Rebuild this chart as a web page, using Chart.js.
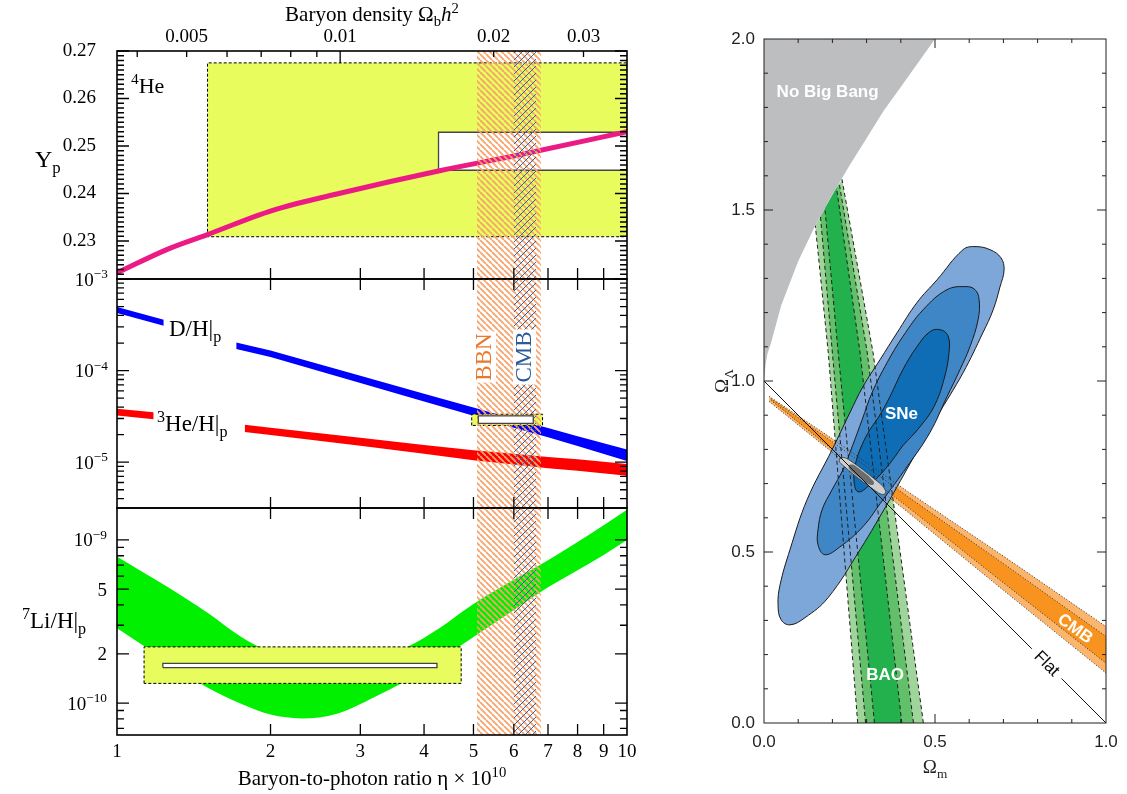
<!DOCTYPE html>
<html>
<head>
<meta charset="utf-8">
<script src="https://cdn.jsdelivr.net/npm/chart.js@4.4.1/dist/chart.umd.min.js"></script>
<style>
html,body{margin:0;padding:0;background:#ffffff;}
#wrap{position:relative;width:1127px;height:794px;overflow:hidden;background:#fff;}
#wrap canvas{position:absolute;left:0;top:0;}
</style>
</head>
<body>
<div id="wrap">
<canvas id="cA" width="1127" height="794"></canvas>
<canvas id="cB" width="1127" height="794"></canvas>
<canvas id="cC" width="1127" height="794"></canvas>
<canvas id="cD" width="1127" height="794"></canvas>
</div>
<script>
// ================= DATA =================
// ---- left panel: x = baryon-to-photon ratio eta x 10^10 ----
const etaTickLabels = [1, 2, 3, 4, 5, 6, 7, 8, 9, 10];
const etaInnerTicks = [2, 3, 4, 5, 6, 7, 8, 9];
const obhTickLabels = [0.005, 0.01, 0.02, 0.03];
const obhMajorTicks = [0.01];
const obhMinorTicks = [0.004, 0.005, 0.006, 0.007, 0.008, 0.009, 0.02, 0.03];
const ETA_PER_OBH = 273.9;

// 4He mass fraction
const etaYp = [1, 1.265, 1.5, 2.013, 2.75, 4.29, 6.0, 10];
const ypValues = [0.2233, 0.2284, 0.2313, 0.2364, 0.2401, 0.2448, 0.2479, 0.2530];
const ypTickLabels = [0.23, 0.24, 0.25, 0.26, 0.27];
const heBoxYellowEta = [1.505, 10];
const heBoxYellowY = [0.2309, 0.2675];
const heBoxWhiteEta = [4.27, 10];
const heBoxWhiteY = [0.2449, 0.2529];

// D/H and 3He/H
const etaDH = [1, 1.235, 1.713, 2, 3, 4, 5, 6, 7, 8, 10];
const dhHigh = [4.95e-4, 3.60e-4, 2.03e-4, 1.66e-4, 8.8e-5, 5.6e-5, 3.95e-5, 2.97e-5, 2.36e-5, 1.92e-5, 1.38e-5];
const dhLow  = [4.25e-4, 3.08e-4, 1.72e-4, 1.41e-4, 7.3e-5, 4.6e-5, 3.22e-5, 2.38e-5, 1.87e-5, 1.5e-5, 1.03e-5];
const etaHe3 = [1, 1.18, 1.78, 2, 3, 4, 5, 6, 7, 8, 10];
const he3High = [3.84e-5, 3.51e-5, 2.56e-5, 2.38e-5, 1.85e-5, 1.54e-5, 1.35e-5, 1.24e-5, 1.14e-5, 1.08e-5, 9.54e-6];
const he3Low  = [3.23e-5, 2.95e-5, 2.14e-5, 1.98e-5, 1.51e-5, 1.24e-5, 1.05e-5, 9.45e-6, 8.6e-6, 8.05e-6, 7.12e-6];
const dBoxYellowEta = [4.96, 6.83];
const dBoxYellowY = [2.52e-5, 3.34e-5];
const dBoxWhiteEta = [5.11, 6.55];
const dBoxWhiteY = [2.66e-5, 3.2e-5];
const dhTickValues = [1e-3, 1e-4, 1e-5];
const dhTickText = ['10^\u22123', '10^\u22124', '10^\u22125'];
const dhMinorTicks = [2e-4,3e-4,4e-4,5e-4,6e-4,7e-4,8e-4,9e-4,2e-5,3e-5,4e-5,5e-5,6e-5,7e-5,8e-5,9e-5,4e-6,5e-6,6e-6,7e-6,8e-6,9e-6];

// 7Li/H
const etaLi = [1, 1.25, 1.5, 1.75, 2, 2.3, 2.7, 3.2, 3.7, 4.3, 5, 6, 7, 8, 9, 10];
const liHigh = [7.9e-10, 5.2e-10, 3.6e-10, 2.55e-10, 2.05e-10, 1.8e-10, 1.72e-10, 1.85e-10, 2.2e-10, 2.9e-10, 4.05e-10, 5.7e-10, 7.5e-10, 9.7e-10, 1.23e-9, 1.53e-9];
const liLow  = [2.87e-10, 1.81e-10, 1.25e-10, 9.9e-11, 8.5e-11, 8.05e-11, 8.6e-11, 1.09e-10, 1.38e-10, 1.85e-10, 2.54e-10, 3.72e-10, 5.13e-10, 6.53e-10, 8.09e-10, 1.0e-9];
const liBoxYellowEta = [1.13, 4.73];
const liBoxYellowY = [1.32e-10, 2.21e-10];
const liBoxWhiteEta = [1.23, 4.24];
const liBoxWhiteY = [1.65e-10, 1.75e-10];
const liTickValues = [1e-9, 5e-10, 2e-10, 1e-10];
const liTickText = ['10^\u22129', '5', '2', '10^\u221210'];
const liMinorTicks = [9e-10, 8e-10, 7e-10, 6e-10, 4e-10, 3e-10, 9e-11, 8e-11, 7e-11];

// BBN and CMB eta ranges
const bbnBand = [5.08, 6.78];
const cmbBand = [6.0, 6.63];

// ---- right panel: Omega_m vs Omega_Lambda ----
const omTickLabels = [0, 0.5, 1.0];
const olTickLabels = [0, 0.5, 1.0, 1.5, 2.0];
const nbbOm = [0, 0.005, 0.01, 0.02, 0.05, 0.1, 0.15, 0.2, 0.25, 0.3, 0.35, 0.4, 0.45, 0.5, 0, 0];
const nbbOl = [1.0, 1.05, 1.08, 1.11, 1.22, 1.35, 1.455, 1.545, 1.63, 1.71, 1.79, 1.86, 1.93, 2.0, 2.0, 1.0];
const baoLightLeftOm = [0.274, 0.188, 0.150];  const baoLightLeftOl = [0, 1.082, 1.455];
const baoLightRightOm = [0.466, 0.319, 0.228]; const baoLightRightOl = [0, 1.082, 1.59];
const baoMidLeftOm = [0.297, 0.200, 0.165];    const baoMidLeftOl = [0, 1.082, 1.482];
const baoMidRightOm = [0.437, 0.302, 0.220];   const baoMidRightOl = [0, 1.082, 1.578];
const baoDarkLeftOm = [0.323, 0.217, 0.178];   const baoDarkLeftOl = [0, 1.082, 1.505];
const baoDarkRightOm = [0.403, 0.281, 0.212];  const baoDarkRightOl = [0, 1.082, 1.565];
const cmbOuterUpOm = [0.015, 0.2, 0.42, 0.7, 1.0];  const cmbOuterUpOl = [0.955, 0.831, 0.677, 0.488, 0.282];
const cmbOuterLoOm = [0.015, 0.2, 0.42, 0.7, 1.0];  const cmbOuterLoOl = [0.940, 0.791, 0.617, 0.388, 0.146];
const cmbInnerUpOm = [0.02, 0.2, 0.42, 0.7, 1.0];   const cmbInnerUpOl = [0.949, 0.822, 0.662, 0.466, 0.253];
const cmbInnerLoOm = [0.02, 0.2, 0.42, 0.7, 1.0];   const cmbInnerLoOl = [0.944, 0.800, 0.632, 0.410, 0.175];
const sneOuterOm = [0.368,0.281,0.187,0.120,0.076,0.050,0.041,0.047,0.076,0.126,0.199,0.251,0.289,0.339,0.389,0.447,0.506,0.582,0.617,0.661,0.693,0.702,0.690,0.670,0.640,0.582,0.506,0.450,0.368];
const sneOuterOl = [0.653,0.507,0.366,0.308,0.287,0.302,0.346,0.404,0.507,0.653,0.799,0.907,0.983,1.062,1.141,1.229,1.296,1.384,1.393,1.384,1.360,1.325,1.275,1.208,1.141,1.024,0.896,0.799,0.653];
const sneMidOm = [0.348,0.289,0.222,0.178,0.158,0.158,0.170,0.199,0.231,0.260,0.287,0.316,0.360,0.406,0.465,0.535,0.591,0.617,0.629,0.626,0.602,0.573,0.535,0.485,0.418,0.348];
const sneMidOl = [0.653,0.574,0.515,0.492,0.521,0.565,0.624,0.682,0.741,0.814,0.887,0.966,1.054,1.130,1.208,1.267,1.276,1.267,1.238,1.179,1.100,1.033,0.954,0.849,0.749,0.653];
const sneInnerOm = [0.406,0.360,0.310,0.275,0.263,0.269,0.287,0.310,0.339,0.368,0.406,0.447,0.485,0.515,0.538,0.541,0.526,0.497,0.456,0.406];
const sneInnerOl = [0.811,0.749,0.697,0.676,0.711,0.764,0.814,0.858,0.901,0.954,1.033,1.100,1.144,1.150,1.132,1.083,1.004,0.925,0.866,0.811];
const combOuterOm = [0.29,0.26,0.235,0.222,0.221,0.235,0.26,0.29,0.32,0.345,0.356,0.352,0.34,0.32,0.29];
const combOuterOl = [0.705,0.728,0.750,0.762,0.771,0.776,0.762,0.740,0.716,0.695,0.677,0.669,0.670,0.683,0.705];
const combInnerOm = [0.285,0.262,0.248,0.250,0.262,0.285,0.31,0.322,0.318,0.305,0.285];
const combInnerOl = [0.713,0.730,0.745,0.755,0.755,0.738,0.718,0.703,0.696,0.699,0.713];
const flatAOm = [0, 0.783];  const flatAOl = [1.0, 0.217];
const flatBOm = [0.870, 1.0]; const flatBOl = [0.130, 0];

// ================= HELPERS =================
const SERIF = "'Liberation Serif','Times New Roman',Times,serif";
const SANS = "'Liberation Sans',Arial,Helvetica,sans-serif";
Chart.defaults.font.family = SERIF;
Chart.defaults.color = '#000';

const YELLOW = '#e9fc5d', MAGENTA = '#ec1a84', BLUE = '#0000ff', RED = '#ff0000', GREEN = '#00f000';
const HATCH_OR = '#f7a36b', HATCH_BL = '#3165ad';

function xy(xs, ys) { return xs.map((x, i) => ({x: x, y: ys[i]})); }
function box(xr, yr) {
  return [{x:xr[0],y:yr[0]},{x:xr[0],y:yr[1]},{x:xr[1],y:yr[1]},{x:xr[1],y:yr[0]},{x:xr[0],y:yr[0]}];
}
function ring(lOm, lOl, rOm, rOl) {
  const om = lOm.concat(rOm.slice().reverse(), [lOm[0]]);
  const ol = lOl.concat(rOl.slice().reverse(), [lOl[0]]);
  return xy(om, ol);
}
function ds(data, o) {
  return Object.assign({data: data, pointRadius: 0, pointHoverRadius: 0, borderWidth: 0,
    borderColor: 'rgba(0,0,0,0)', backgroundColor: 'rgba(0,0,0,0)', fill: false, tension: 0}, o);
}
function hatch(ctx, color, dir, s, lw) {
  const c = document.createElement('canvas'); c.width = s; c.height = s;
  const g = c.getContext('2d');
  g.strokeStyle = color; g.lineWidth = lw;
  g.beginPath();
  for (let k = -1; k <= 1; k++) {
    if (dir === 'back') { g.moveTo(k * s, 0); g.lineTo(k * s + s, s); }
    else { g.moveTo(k * s, s); g.lineTo(k * s + s, 0); }
  }
  g.stroke();
  return ctx.createPattern(c, 'repeat');
}
function parseLabel(t) {
  const i = t.indexOf('^');
  return i < 0 ? [[t, 'n']] : [[t.slice(0, i), 'n'], [t.slice(i + 1), 'sup']];
}
function rich(ctx, x, y, segs, o) {
  const size = o.size, fam = o.family || SERIF, wt = o.weight || 'normal';
  const parts = segs.map(function (s) {
    const t = s[0], k = s[1];
    const small = (k === 'sup' || k === 'sub');
    const fs = small ? size * 0.7 : size;
    const font = (k === 'i' ? 'italic ' : '') + wt + ' ' + fs + 'px ' + fam;
    ctx.font = font;
    return {t: t, font: font, w: ctx.measureText(t).width,
            dy: k === 'sup' ? -size * 0.40 : (k === 'sub' ? size * 0.24 : 0)};
  });
  const W = parts.reduce((a, p) => a + p.w, 0);
  let x0 = o.align === 'right' ? -W : (o.align === 'center' ? -W / 2 : 0);
  ctx.save();
  ctx.translate(x, y);
  if (o.rot) ctx.rotate(o.rot);
  ctx.textAlign = 'left';
  ctx.textBaseline = o.middle ? 'middle' : 'alphabetic';
  if (o.bg) { ctx.fillStyle = o.bg; ctx.fillRect(x0 - 2, -size * 0.78, W + 4, size * 1.0); }
  ctx.fillStyle = o.color || '#000';
  for (const p of parts) { ctx.font = p.font; ctx.fillText(p.t, x0, p.dy); x0 += p.w; }
  ctx.restore();
  return W;
}
function framePlugin(cfg) {
  return {
    id: 'frame' + cfg.name,
    afterDatasetsDraw: function (chart) {
      const ctx = chart.ctx, a = chart.chartArea;
      ctx.save();
      ctx.strokeStyle = cfg.color;
      for (const t of cfg.ticks) {
        const s = chart.scales[t.scale];
        ctx.lineWidth = t.width || cfg.tickWidth;
        ctx.beginPath();
        for (const v of t.values) {
          const p = s.getPixelForValue(v);
          for (const side of t.sides) {
            if (side === 'bottom') { ctx.moveTo(p, a.bottom); ctx.lineTo(p, a.bottom - t.len); }
            if (side === 'top') { ctx.moveTo(p, a.top); ctx.lineTo(p, a.top + t.len); }
            if (side === 'left') { ctx.moveTo(a.left, p); ctx.lineTo(a.left + t.len, p); }
            if (side === 'right') { ctx.moveTo(a.right, p); ctx.lineTo(a.right - t.len, p); }
          }
        }
        ctx.stroke();
      }
      ctx.lineWidth = cfg.borderWidth;
      ctx.strokeRect(a.left, a.top, a.right - a.left, a.bottom - a.top);
      if (cfg.draw) cfg.draw(chart, ctx, a);
      ctx.restore();
    }
  };
}
function baseOptions(pad, scales) {
  return {
    responsive: false, animation: false, devicePixelRatio: 1,
    layout: {padding: pad},
    plugins: {legend: {display: false}, tooltip: {enabled: false}},
    events: [],
    scales: scales
  };
}
const noGrid = {display: false, drawTicks: false};
const noBorder = {display: false};
function fixedTicks(arr) { return function (s) { s.ticks = arr.map(v => ({value: v})); }; }

// ================= CHART A : 4He =================
const ctxA = document.getElementById('cA').getContext('2d');
const YA = [0.222, 0.27];
let ypMinor = [];
for (let k = 223; k <= 269; k++) { if (k % 10 !== 0) ypMinor.push(k / 1000); }
new Chart(ctxA, {
  type: 'line',
  data: {datasets: [
    ds(box(heBoxYellowEta, heBoxYellowY), {fill: 'shape', backgroundColor: YELLOW, borderColor: '#000', borderWidth: 1, borderDash: [3, 2], order: 10}),
    ds(box(heBoxWhiteEta, heBoxWhiteY), {fill: 'shape', backgroundColor: '#fff', borderColor: '#444', borderWidth: 1.3, order: 9}),
    ds(xy(etaYp, ypValues), {borderColor: MAGENTA, borderWidth: 5, cubicInterpolationMode: 'monotone', order: 8}),
    ds(box(bbnBand, YA), {fill: 'shape', backgroundColor: hatch(ctxA, HATCH_OR, 'back', 6, 1.8), order: 2}),
    ds(box(cmbBand, YA), {fill: 'shape', backgroundColor: hatch(ctxA, HATCH_BL, 'fwd', 7, 1.0), order: 1})
  ]},
  options: baseOptions({left: 57, right: 500, top: 0, bottom: 515}, {
    x: {type: 'logarithmic', min: 1, max: 10, display: false},
    x2: {type: 'logarithmic', axis: 'x', position: 'top', min: 1 / ETA_PER_OBH, max: 10 / ETA_PER_OBH,
         grid: noGrid, border: noBorder,
         ticks: {font: {size: 19}, padding: 3, autoSkip: false, maxRotation: 0, callback: v => String(v)},
         afterBuildTicks: fixedTicks(obhTickLabels), afterFit: s => { s.height = 51; }},
    y: {type: 'linear', position: 'left', min: YA[0], max: YA[1], grid: noGrid, border: noBorder,
        ticks: {font: {size: 19}, padding: 21, callback: v => v.toFixed(2)},
        afterBuildTicks: fixedTicks(ypTickLabels), afterFit: s => { s.width = 60; }}
  }),
  plugins: [framePlugin({name: 'A', color: '#000', borderWidth: 1.6, tickWidth: 1.3,
    ticks: [
      {scale: 'x', values: etaInnerTicks, sides: ['bottom'], len: 11},
      {scale: 'x2', values: obhMajorTicks, sides: ['top'], len: 12},
      {scale: 'x2', values: obhMinorTicks, sides: ['top'], len: 6},
      {scale: 'y', values: ypTickLabels, sides: ['left', 'right'], len: 12},
      {scale: 'y', values: ypMinor, sides: ['left', 'right'], len: 7}
    ],
    draw: function (chart, ctx, a) {
      const sx = chart.scales.x, sy = chart.scales.y;
      rich(ctx, sx.getPixelForValue(1.065), sy.getPixelForValue(0.2612), [['4', 'sup'], ['He', 'n']], {size: 22});
      rich(ctx, 35, 167, [['Y', 'n'], ['p', 'sub']], {size: 24});
      rich(ctx, (a.left + a.right) / 2, 21, [['Baryon density \u03a9', 'n'], ['b', 'sub'], ['h', 'i'], ['2', 'sup']], {size: 21, align: 'center'});
    }})]
});

// ================= CHART B : D/H, 3He/H =================
const ctxB = document.getElementById('cB').getContext('2d');
const YB = [Math.pow(10, -5.5), 1e-3];
const dhL = [0, 2], dhR = [2, 11], heL = [0, 2], heR = [2, 11];
new Chart(ctxB, {
  type: 'line',
  data: {datasets: [
    ds(xy(etaDH.slice(dhL[0], dhL[1]), dhHigh.slice(dhL[0], dhL[1])), {fill: '+1', backgroundColor: BLUE, order: 20}),
    ds(xy(etaDH.slice(dhL[0], dhL[1]), dhLow.slice(dhL[0], dhL[1])), {order: 19}),
    ds(xy(etaDH.slice(dhR[0], dhR[1]), dhHigh.slice(dhR[0], dhR[1])), {fill: '+1', backgroundColor: BLUE, order: 18}),
    ds(xy(etaDH.slice(dhR[0], dhR[1]), dhLow.slice(dhR[0], dhR[1])), {order: 17}),
    ds(xy(etaHe3.slice(heL[0], heL[1]), he3High.slice(heL[0], heL[1])), {fill: '+1', backgroundColor: RED, order: 16}),
    ds(xy(etaHe3.slice(heL[0], heL[1]), he3Low.slice(heL[0], heL[1])), {order: 15}),
    ds(xy(etaHe3.slice(heR[0], heR[1]), he3High.slice(heR[0], heR[1])), {fill: '+1', backgroundColor: RED, order: 14}),
    ds(xy(etaHe3.slice(heR[0], heR[1]), he3Low.slice(heR[0], heR[1])), {order: 13}),
    ds(box(dBoxYellowEta, dBoxYellowY), {fill: 'shape', backgroundColor: YELLOW, borderColor: '#000', borderWidth: 1, borderDash: [3, 2], order: 6}),
    ds(box(bbnBand, YB), {fill: 'shape', backgroundColor: hatch(ctxB, HATCH_OR, 'back', 6, 1.8), order: 4}),
    ds(box(cmbBand, YB), {fill: 'shape', backgroundColor: hatch(ctxB, HATCH_BL, 'fwd', 7, 1.0), order: 3}),
    ds(box(dBoxWhiteEta, dBoxWhiteY), {fill: 'shape', backgroundColor: '#fff', borderColor: '#444', borderWidth: 1.3, order: 2})
  ]},
  options: baseOptions({left: 117, right: 500, top: 279, bottom: 286}, {
    x: {type: 'logarithmic', min: 1, max: 10, display: false},
    y: {type: 'logarithmic', min: YB[0], max: YB[1], display: false}
  }),
  plugins: [framePlugin({name: 'B', color: '#000', borderWidth: 1.6, tickWidth: 1.3,
    ticks: [
      {scale: 'x', values: etaInnerTicks, sides: ['bottom', 'top'], len: 11},
      {scale: 'y', values: dhTickValues, sides: ['left', 'right'], len: 12},
      {scale: 'y', values: dhMinorTicks, sides: ['left', 'right'], len: 7}
    ],
    draw: function (chart, ctx, a) {
      const sx = chart.scales.x, sy = chart.scales.y;
      dhTickValues.forEach((v, i) => rich(ctx, 108, sy.getPixelForValue(v) + 6.5, parseLabel(dhTickText[i]), {size: 19, align: 'right'}));
      rich(ctx, 169, 336, [['D/H', 'n'], ['|', 'n'], ['p', 'sub']], {size: 23});
      rich(ctx, 157, 431, [['3', 'sup'], ['He/H', 'n'], ['|', 'n'], ['p', 'sub']], {size: 23});
      const yMid = 357;
      rich(ctx, 491, yMid, [['BBN', 'n']], {size: 23, align: 'center', rot: -Math.PI / 2, color: '#e9792b', bg: '#fff'});
      rich(ctx, 531, yMid, [['CMB', 'n']], {size: 23, align: 'center', rot: -Math.PI / 2, color: '#2d5b98', bg: '#fff'});
    }})]
});

// ================= CHART C : 7Li/H =================
const ctxC = document.getElementById('cC').getContext('2d');
const YC = [6.37e-11, 1.57e-9];
new Chart(ctxC, {
  type: 'line',
  data: {datasets: [
    ds(xy(etaLi, liHigh), {fill: '+1', backgroundColor: GREEN, cubicInterpolationMode: 'monotone', order: 20}),
    ds(xy(etaLi, liLow), {cubicInterpolationMode: 'monotone', order: 19}),
    ds(box(liBoxYellowEta, liBoxYellowY), {fill: 'shape', backgroundColor: YELLOW, borderColor: '#000', borderWidth: 1, borderDash: [3, 2], order: 8}),
    ds(box(liBoxWhiteEta, liBoxWhiteY), {fill: 'shape', backgroundColor: '#fff', borderColor: '#444', borderWidth: 1.3, order: 7}),
    ds(box(bbnBand, YC), {fill: 'shape', backgroundColor: hatch(ctxC, HATCH_OR, 'back', 6, 1.8), order: 4}),
    ds(box(cmbBand, YC), {fill: 'shape', backgroundColor: hatch(ctxC, HATCH_BL, 'fwd', 7, 1.0), order: 3})
  ]},
  options: baseOptions({left: 117, right: 500, top: 508, bottom: 0}, {
    x: {type: 'logarithmic', position: 'bottom', min: 1, max: 10, grid: noGrid, border: noBorder,
        ticks: {font: {size: 19}, padding: 6, autoSkip: false, maxRotation: 0, callback: v => String(v)},
        afterBuildTicks: fixedTicks(etaTickLabels), afterFit: s => { s.height = 59; }},
    y: {type: 'logarithmic', min: YC[0], max: YC[1], display: false}
  }),
  plugins: [framePlugin({name: 'C', color: '#000', borderWidth: 1.6, tickWidth: 1.3,
    ticks: [
      {scale: 'x', values: etaInnerTicks, sides: ['bottom', 'top'], len: 11},
      {scale: 'y', values: liTickValues, sides: ['left', 'right'], len: 12},
      {scale: 'y', values: liMinorTicks, sides: ['left', 'right'], len: 7}
    ],
    draw: function (chart, ctx, a) {
      const sy = chart.scales.y;
      liTickValues.forEach((v, i) => rich(ctx, 107, sy.getPixelForValue(v) + 6.5, parseLabel(liTickText[i]), {size: 19, align: 'right'}));
      rich(ctx, 22, 628, [['7', 'sup'], ['Li/H', 'n'], ['|', 'n'], ['p', 'sub']], {size: 23});
      rich(ctx, (a.left + a.right) / 2, 785, [['Baryon-to-photon ratio \u03b7 \u00d7 10', 'n'], ['10', 'sup']], {size: 21, align: 'center'});
    }})]
});

// ================= CHART D : Omega_m - Omega_Lambda =================
const ctxD = document.getElementById('cD').getContext('2d');
let omMinor = [], olMinor = [];
for (let k = 1; k < 10; k++) { if (k !== 5) omMinor.push(k / 10); }
for (let k = 1; k < 20; k++) { if (k % 5 !== 0) olMinor.push(k / 10); }
const dashLine = {borderColor: '#1e1e1e', borderWidth: 1, borderDash: [4, 3]};
const dotLine = {borderColor: '#333', borderWidth: 1, borderDash: [1, 2]};
new Chart(ctxD, {
  type: 'line',
  data: {datasets: [
    ds(ring(baoLightLeftOm, baoLightLeftOl, baoLightRightOm, baoLightRightOl), {fill: 'shape', backgroundColor: '#9fd49b', order: 100}),
    ds(ring(baoMidLeftOm, baoMidLeftOl, baoMidRightOm, baoMidRightOl), {fill: 'shape', backgroundColor: '#62bf6a', order: 99}),
    ds(ring(baoDarkLeftOm, baoDarkLeftOl, baoDarkRightOm, baoDarkRightOl), {fill: 'shape', backgroundColor: '#22b14c', order: 98}),
    ds(ring(cmbOuterUpOm, cmbOuterUpOl, cmbOuterLoOm, cmbOuterLoOl), {fill: 'shape', backgroundColor: '#fbb56c', order: 97}),
    ds(ring(cmbInnerUpOm, cmbInnerUpOl, cmbInnerLoOm, cmbInnerLoOl), {fill: 'shape', backgroundColor: '#f7931e', order: 96}),
    ds(xy(sneOuterOm, sneOuterOl), {fill: 'shape', backgroundColor: '#7da7d9', borderColor: '#1a1a1a', borderWidth: 1, tension: 0.4, order: 95}),
    ds(xy(sneMidOm, sneMidOl), {fill: 'shape', backgroundColor: '#3f86c7', borderColor: '#1a1a1a', borderWidth: 1, tension: 0.4, order: 94}),
    ds(xy(sneInnerOm, sneInnerOl), {fill: 'shape', backgroundColor: '#0e6db5', borderColor: '#1a1a1a', borderWidth: 1, tension: 0.4, order: 93}),
    ds(xy(baoLightLeftOm, baoLightLeftOl), Object.assign({order: 90}, dashLine)),
    ds(xy(baoLightRightOm, baoLightRightOl), Object.assign({order: 90}, dashLine)),
    ds(xy(baoMidLeftOm, baoMidLeftOl), Object.assign({order: 90}, dashLine)),
    ds(xy(baoMidRightOm, baoMidRightOl), Object.assign({order: 90}, dashLine)),
    ds(xy(baoDarkLeftOm, baoDarkLeftOl), Object.assign({order: 90}, dashLine)),
    ds(xy(baoDarkRightOm, baoDarkRightOl), Object.assign({order: 90}, dashLine)),
    ds(xy(cmbOuterUpOm, cmbOuterUpOl), Object.assign({order: 85}, dotLine)),
    ds(xy(cmbOuterLoOm, cmbOuterLoOl), Object.assign({order: 85}, dotLine)),
    ds(xy(cmbInnerUpOm, cmbInnerUpOl), Object.assign({order: 85}, dotLine)),
    ds(xy(cmbInnerLoOm, cmbInnerLoOl), Object.assign({order: 85}, dotLine)),
    ds(xy(nbbOm, nbbOl), {fill: 'shape', backgroundColor: '#bcbec0', order: 80}),
    ds(xy(combOuterOm, combOuterOl), {fill: 'shape', backgroundColor: '#cfcfcf', borderColor: '#333', borderWidth: 0.8, tension: 0.3, order: 70}),
    ds(xy(combInnerOm, combInnerOl), {fill: 'shape', backgroundColor: '#6b6c6e', tension: 0.3, order: 69}),
    ds(xy(flatAOm, flatAOl), {borderColor: '#111', borderWidth: 1, order: 60}),
    ds(xy(flatBOm, flatBOl), {borderColor: '#111', borderWidth: 1, order: 60})
  ]},
  options: baseOptions({left: 724, right: 21, top: 39, bottom: 31}, {
    x: {type: 'linear', position: 'bottom', min: 0, max: 1, grid: noGrid, border: noBorder,
        ticks: {font: {family: SANS, size: 17}, color: '#231f20', padding: 9, autoSkip: false, maxRotation: 0, callback: v => v.toFixed(1)},
        afterBuildTicks: fixedTicks(omTickLabels), afterFit: s => { s.height = 40; }},
    y: {type: 'linear', position: 'left', min: 0, max: 2, grid: noGrid, border: noBorder,
        ticks: {font: {family: SANS, size: 17}, color: '#231f20', padding: 9, callback: v => v.toFixed(1)},
        afterBuildTicks: fixedTicks(olTickLabels), afterFit: s => { s.width = 40; }}
  }),
  plugins: [framePlugin({name: 'D', color: '#231f20', borderWidth: 1, tickWidth: 1,
    ticks: [
      {scale: 'x', values: [0.5], sides: ['bottom', 'top'], len: 9},
      {scale: 'x', values: omMinor, sides: ['bottom', 'top'], len: 4},
      {scale: 'y', values: [0.5, 1.0, 1.5], sides: ['left', 'right'], len: 9},
      {scale: 'y', values: olMinor, sides: ['left', 'right'], len: 4}
    ],
    draw: function (chart, ctx, a) {
      const sx = chart.scales.x, sy = chart.scales.y;
      const P = (m, l) => [sx.getPixelForValue(m), sy.getPixelForValue(l)];
      let p;
      p = P(0.186, 1.844); rich(ctx, p[0], p[1], [['No Big Bang', 'n']], {size: 17, family: SANS, weight: 'bold', color: '#fff', align: 'center', middle: true});
      p = P(0.402, 0.903); rich(ctx, p[0], p[1], [['SNe', 'n']], {size: 17, family: SANS, weight: 'bold', color: '#fff', align: 'center', middle: true});
      p = P(0.354, 0.140); rich(ctx, p[0], p[1], [['BAO', 'n']], {size: 17, family: SANS, weight: 'bold', color: '#fff', align: 'center', middle: true});
      p = P(0.909, 0.275); rich(ctx, p[0], p[1], [['CMB', 'n']], {size: 17, family: SANS, weight: 'bold', color: '#fff', align: 'center', middle: true, rot: 0.62});
      p = P(0.826, 0.173); rich(ctx, p[0], p[1], [['Flat', 'n']], {size: 17, family: SANS, color: '#111', align: 'center', middle: true, rot: Math.PI / 4});
      rich(ctx, (a.left + a.right) / 2, 773, [['\u03a9', 'n'], ['m', 'sub']], {size: 19, align: 'center', color: '#231f20'});
      rich(ctx, 728, sy.getPixelForValue(1.0), [['\u03a9', 'n'], ['\u039b', 'sub']], {size: 19, align: 'center', rot: -Math.PI / 2, color: '#231f20'});
    }})]
});
</script>
</body>
</html>
